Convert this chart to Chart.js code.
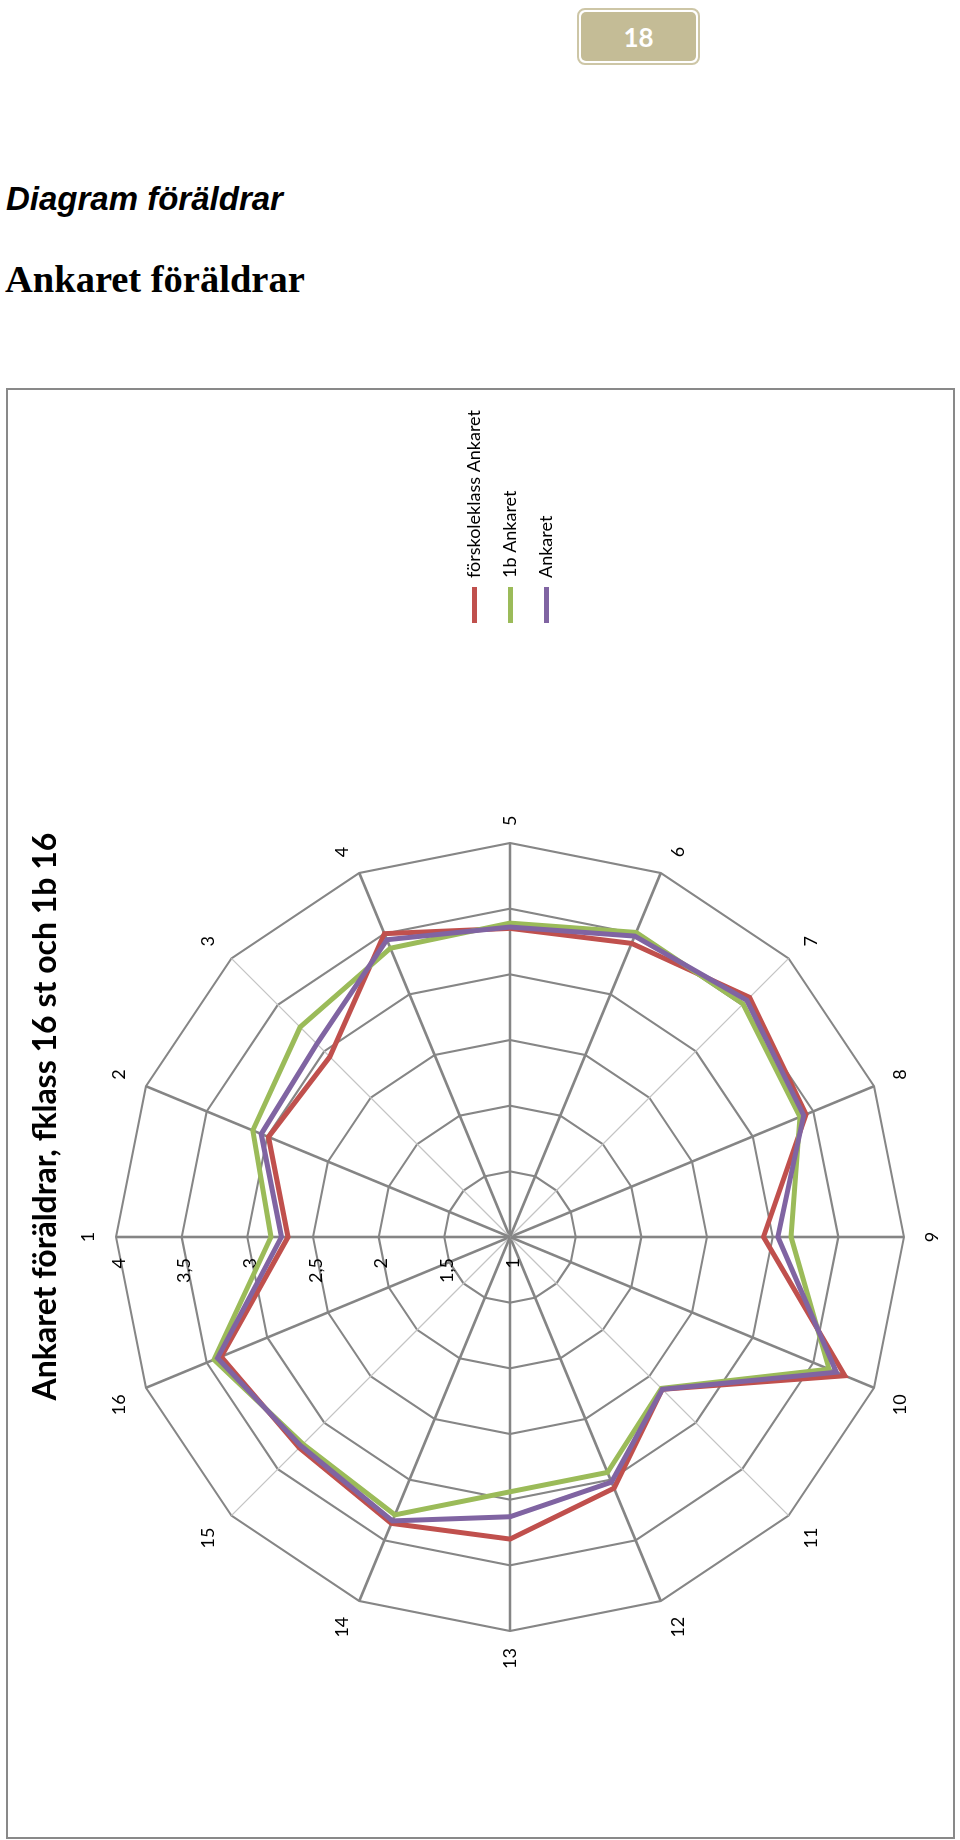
<!DOCTYPE html>
<html>
<head>
    <meta charset="utf-8">
    <title>Ankaret föräldrar</title>
    <script src="https://cdn.jsdelivr.net/npm/chart.js@4.4.0/dist/chart.umd.min.js"></script>
    <style>
        body {
            margin: 0;
            background: #fff;
            width: 960px;
            height: 1840px;
            position: relative;
        }

        #pageNumber {
            position: absolute;
            left: 577px;
            top: 8px;
            width: 115px;
            height: 49px;
            border: 2px solid #cdc6a6;
            border-radius: 8px;
            padding: 2px;
        }

        #pageNumber div {
            width: 100%;
            height: 100%;
            background: #c4bc96;
            border-radius: 5px;
            color: #fff;
            font: bold 26px Lato, sans-serif;
            display: flex;
            align-items: center;
            justify-content: center;
        }

        #heading1 {
            position: absolute;
            left: 6px;
            top: 182px;
            font: italic bold 33px "Liberation Sans", Arial, sans-serif;
            line-height: 1;
            white-space: nowrap;
        }

        #heading2 {
            position: absolute;
            left: 5px;
            top: 260px;
            font: bold 38.5px "Liberation Serif", serif;
            line-height: 1;
            white-space: nowrap;
        }

        #chartBox {
            position: absolute;
            left: 6px;
            top: 388px;
            width: 945px;
            height: 1447px;
            border: 2px solid #898989;
            overflow: hidden;
        }

        /* the chart is drawn lying down and turned a quarter turn */
        #chartTurn {
            position: absolute;
            left: 0;
            top: 1447px;
            width: 1447px;
            height: 945px;
            transform-origin: 0 0;
            transform: rotate(-90deg);
        }
    </style>
</head>
<body>
    <div id="pageNumber"><div>18</div></div>
    <div id="heading1">Diagram föräldrar</div>
    <div id="heading2">Ankaret föräldrar</div>

    <div id="chartBox">
        <div id="chartTurn">
            <canvas id="radarChart" width="1447" height="945"></canvas>
        </div>
    </div>

    <script>
        const categories = ['1', '2', '3', '4', '5', '6', '7', '8', '9', '10', '11', '12', '13', '14', '15', '16'];
        const tickValues = [1, 1.5, 2, 2.5, 3, 3.5, 4];
        const tickLabels = ['1', '1,5', '2', '2,5', '3', '3,5', '4'];

        const forskoleklass = [2.69, 2.99, 2.94, 3.50, 3.35, 3.42, 3.58, 3.44, 2.93, 3.76, 2.64, 3.07, 3.30, 3.36, 3.27, 3.38];
        const klass1b = [2.82, 3.12, 3.26, 3.38, 3.39, 3.51, 3.51, 3.39, 3.14, 3.63, 2.63, 2.94, 2.94, 3.29, 3.23, 3.44];
        const ankaret = [2.74, 3.05, 3.08, 3.45, 3.36, 3.48, 3.55, 3.42, 3.04, 3.69, 2.64, 3.02, 3.13, 3.34, 3.25, 3.41];

        const seriesNames = ['förskoleklass Ankaret', '1b Ankaret', 'Ankaret'];
        const seriesColors = ['#c0504d', '#9bbb59', '#8064a2'];

        Chart.defaults.font.family = 'Lato, sans-serif';
        Chart.defaults.color = '#000';

        // tick numbers sit left of the first spoke, like in Excel
        const tickLabelPlugin = {
            id: 'tickLabels',
            beforeDatasetsDraw(chart) {
                const scale = chart.scales.r;
                const ctx = chart.ctx;
                ctx.save();
                ctx.font = '18px Lato, sans-serif';
                ctx.fillStyle = '#000';
                ctx.textAlign = 'right';
                ctx.textBaseline = 'middle';
                tickValues.forEach((v, i) => {
                    const p = scale.getPointPositionForValue(0, v);
                    ctx.fillText(tickLabels[i], p.x - 21, p.y + 3);
                });
                ctx.restore();
            }
        };

        const ctx = document.getElementById('radarChart').getContext('2d');
        const radarChart = new Chart(ctx, {
            type: 'radar',
            data: {
                labels: categories,
                datasets: [forskoleklass, klass1b, ankaret].map((values, i) => ({
                    label: seriesNames[i],
                    data: values,
                    borderColor: seriesColors[i],
                    backgroundColor: seriesColors[i],
                    borderWidth: 5,
                    pointRadius: 0,
                    pointHoverRadius: 0,
                    fill: false,
                    order: 3 - i
                }))
            },
            options: {
                responsive: false,
                animation: false,
                layout: {
                    padding: { left: 4, right: 10, top: 0, bottom: 9.5 }
                },
                scales: {
                    r: {
                        min: 1,
                        max: 4,
                        ticks: {
                            stepSize: 0.5,
                            display: false
                        },
                        grid: {
                            circular: false,
                            color: '#868686',
                            lineWidth: 2.1
                        },
                        angleLines: {
                            color: c => (c.index % 4 === 2 ? '#c4c4c4' : '#858585'),
                            lineWidth: c => (c.index % 4 === 2 ? 1.3 : 2.6)
                        },
                        pointLabels: {
                            font: { size: 18 },
                            color: '#000',
                            padding: 17
                        }
                    }
                },
                plugins: {
                    title: {
                        display: true,
                        text: 'Ankaret föräldrar, fklass 16 st och 1b 16',
                        color: '#000',
                        font: { size: 32, weight: 'bold' },
                        padding: { top: 18, bottom: 13 }
                    },
                    legend: {
                        position: 'right',
                        fullSize: false,
                        labels: {
                            boxWidth: 36,
                            boxHeight: 5,
                            padding: 18,
                            font: { size: 18 },
                            color: '#000',
                            generateLabels: chart =>
                                Chart.defaults.plugins.legend.labels.generateLabels(chart)
                                    .map(item => ({ ...item, lineWidth: 0 })),
                            sort: (a, b) => a.datasetIndex - b.datasetIndex
                        }
                    },
                    tooltip: { enabled: false }
                }
            },
            plugins: [tickLabelPlugin]
        });
    </script>
</body>
</html>
